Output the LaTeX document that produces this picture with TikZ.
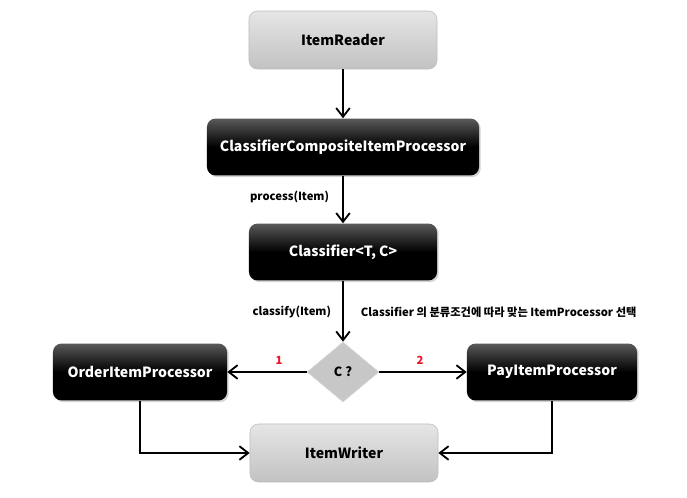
\documentclass[tikz,border=0pt]{standalone}
\usepackage{fontspec}
\setmainfont{Noto Sans CJK KR}
\usepackage{xcolor}
\usetikzlibrary{shapes.geometric,shadows,arrows.meta}

\definecolor{lblred}{RGB}{235,20,40}

\tikzset{
  darkbox/.style={rounded corners=6pt, minimum width=4.7cm, minimum height=1.42cm,
    top color=black!65, bottom color=black, middle color=black, text=white,
    font=\bfseries\fontsize{10}{12}\selectfont,
    drop shadow={shadow xshift=1.2pt, shadow yshift=-1.2pt, opacity=0.35}},
  greybox/.style={rounded corners=6pt, minimum width=4.7cm, minimum height=1.45cm,
    top color=black!10, bottom color=black!24, draw=black!25,
    font=\bfseries\fontsize{10}{12}\selectfont},
  choice/.style={diamond, minimum width=1.8cm, minimum height=1.5cm, inner sep=0pt,
    fill=black!22, draw=black!15, font=\bfseries\fontsize{9}{11}\selectfont},
  lbl/.style={font=\bfseries\fontsize{8}{10}\selectfont},
  flow/.style={line width=1.3pt, -{Straight Barb[length=2.2mm,width=3.4mm,line width=1.3pt]}}
}

\begin{document}
\begin{tikzpicture}[x=0.025cm, y=-0.025cm]
\useasboundingbox (0,0) rectangle (687,498);

\node[greybox] at (343, 40) (reader) {ItemReader};
\node[darkbox, minimum width=6.8cm] at (343, 147) (composite) {ClassifierCompositeItemProcessor};
\node[darkbox] at (343, 252) (classifier) {Classifier<T, C>};
\node[choice] at (343, 372) (pick) {C ?};
\node[darkbox, minimum width=4.35cm] at (140, 372) (order) {OrderItemProcessor};
\node[darkbox, minimum width=4.25cm] at (552, 372) (pay) {PayItemProcessor};
\node[greybox] at (344, 453) (writer) {ItemWriter};

\node[lbl, anchor=east] at (334, 197) {process(Item)};
\node[lbl, anchor=east] at (336, 312) {classify(Item)};
\node[lbl, anchor=west] at (356, 312) {Classifier 의 분류조건에 따라 맞는 ItemProcessor 선택};
\node[lbl, text=lblred] at (279, 360) {1};
\node[lbl, text=lblred] at (420, 360) {2};

\draw[flow] (reader) -- (composite);
\draw[flow] (composite) -- (classifier);
\draw[flow] (classifier) -- (pick);
\draw[flow] (pick) -- (order);
\draw[flow] (pick) -- (pay);
\draw[flow] (order.south) |- (writer.west);
\draw[flow] (pay.south) |- (writer.east);
\end{tikzpicture}
\end{document}
